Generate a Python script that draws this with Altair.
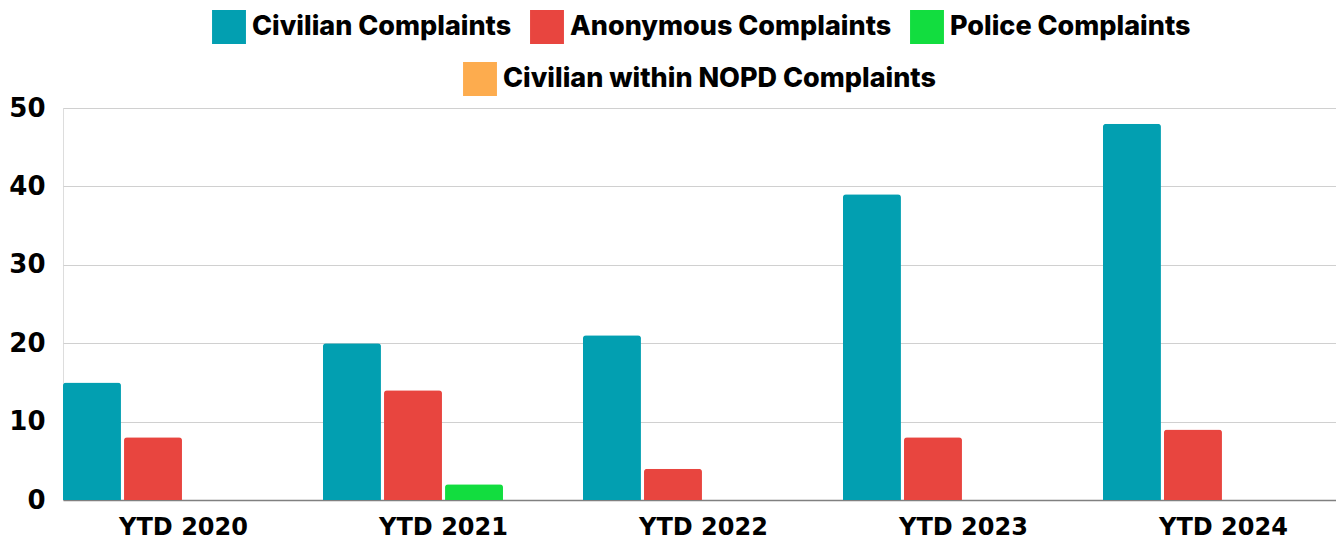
import altair as alt
import pandas as pd

years = ["YTD 2020", "YTD 2021", "YTD 2022", "YTD 2023", "YTD 2024"]
series = ["Civilian Complaints", "Anonymous Complaints", "Police Complaints",
          "Civilian within NOPD Complaints"]
colors = ["#029fb1", "#e8453f", "#12dd3f", "#fdac4e"]

civilian = [15, 20, 21, 39, 48]
anonymous = [8, 14, 4, 8, 9]
police = [0, 2, 0, 0, 0]
civ_nopd = [0, 0, 0, 0, 0]

rows = []
for s, vals in zip(series, [civilian, anonymous, police, civ_nopd]):
    for y, v in zip(years, vals):
        rows.append({"year": y, "series": s, "value": v})
df = pd.DataFrame(rows)

AXIS_FONT = "DejaVu Sans"
LEGEND_FONT = "Inter"

x_enc = alt.X("year:N", sort=years, title=None,
              scale=alt.Scale(paddingInner=0.073, paddingOuter=0, range=[0, 1281]),
              axis=alt.Axis(labelAngle=0, labelFontSize=24, labelFontWeight="bold",
                            labelFont=AXIS_FONT, labelColor="#000", labelPadding=15,
                            ticks=False, domainColor="#808080", domainWidth=1.5,
                            grid=False))
xo_enc = alt.XOffset("series:N", sort=series,
                     scale=alt.Scale(domain=series, paddingInner=0.05, paddingOuter=0))
y_enc = alt.Y("value:Q", title=None,
              scale=alt.Scale(domain=[0, 50], nice=False),
              axis=alt.Axis(values=[0, 10, 20, 30, 40, 50], labelFontSize=26,
                            labelFontWeight="bold", labelFont=AXIS_FONT, labelColor="#000",
                            labelPadding=18, ticks=False, domain=False,
                            gridColor="#d0d0d0", gridWidth=1.2))

base = alt.Chart(df).mark_bar(cornerRadiusTopLeft=3, cornerRadiusTopRight=3)

legend_common = dict(orient="none", direction="horizontal", title=None,
                     symbolType="square", symbolSize=1150, symbolStrokeWidth=0,
                     labelFontSize=27, labelFontWeight=800, labelFont=LEGEND_FONT,
                     labelColor="#000", labelOffset=6, columnPadding=18,
                     padding=0, labelLimit=600)

layer_a = base.transform_filter(
    alt.FieldOneOfPredicate(field="series", oneOf=series[:3])
).encode(
    x=x_enc, xOffset=xo_enc, y=y_enc,
    color=alt.Color("series:N", sort=series[:3],
                    scale=alt.Scale(domain=series[:3], range=colors[:3]),
                    legend=alt.Legend(legendX=149, legendY=-98, **legend_common)),
)

layer_b = base.transform_filter(
    alt.FieldEqualPredicate(field="series", equal=series[3])
).encode(
    x=x_enc, xOffset=xo_enc, y=y_enc,
    color=alt.Color("series:N",
                    scale=alt.Scale(domain=series[3:], range=colors[3:]),
                    legend=alt.Legend(legendX=400, legendY=-46, **legend_common)),
)

chart = alt.layer(layer_a, layer_b).resolve_scale(color="independent").resolve_legend(
    color="independent"
).properties(
    width=1273, height=392,
    autosize=alt.AutoSizeParams(type="none"),
    padding={"left": 55, "top": 100, "right": 0, "bottom": 42},
).configure_view(stroke=None).configure(background="white")

chart.save("out.html", embed_options={"renderer": "svg", "actions": False})
